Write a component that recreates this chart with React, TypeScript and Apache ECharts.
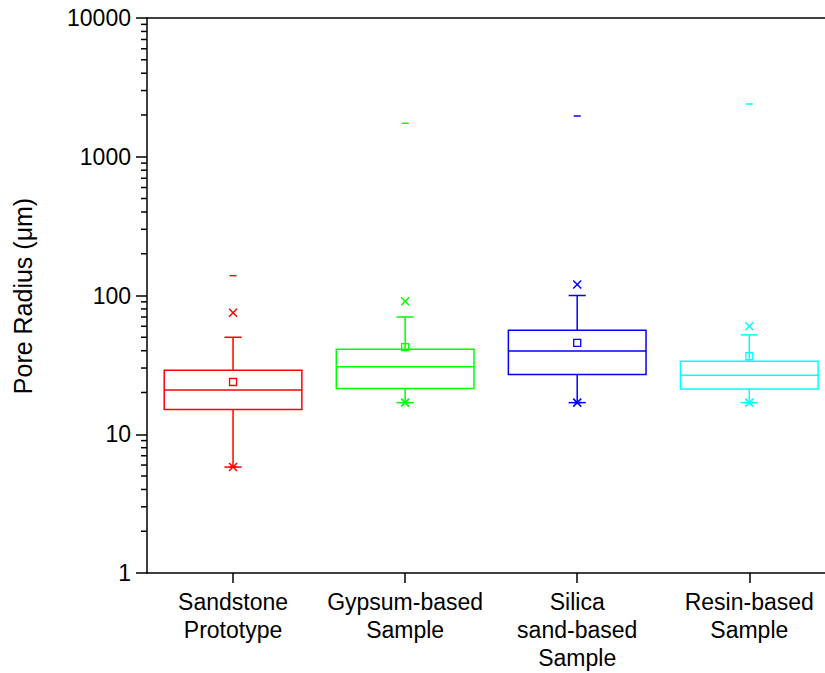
import React, { useEffect, useRef } from "react";
import * as echarts from "echarts";

const categories = [
  "Sandstone\nPrototype",
  "Gypsum-based\nSample",
  "Silica\nsand-based\nSample",
  "Resin-based\nSample",
];
const colors = ["#FF0000", "#00FF00", "#0000FF", "#00FFFF"];
const q1 = [15.1, 21.4, 26.9, 21.2];
const median = [20.8, 30.7, 39.8, 26.6];
const q3 = [28.9, 41.0, 56.1, 33.6];
const whiskerLow = [5.8, 16.9, 16.9, 16.9];
const whiskerHigh = [50, 70, 100, 52];
const mean = [23.8, 42.4, 45.5, 36.5];
const p99 = [75, 91, 120, 60];
const p1 = [5.8, 16.9, 16.9, 16.9];
const maxV = [139, 1742, 1967, 2400];
const minV = [5.8, 16.9, 16.9, 16.9];
const yTicks = [1, 10, 100, 1000, 10000];
const minorTicks: number[] = [];
for (let d = 0; d < 4; d++) {
  for (let m = 2; m <= 9; m++) minorTicks.push(m * Math.pow(10, d));
}

const FONT = "'Liberation Sans', Arial, Helvetica, sans-serif";
const X_MIN = 0.5;
const X_MAX = 4.44;

export default function App() {
  const ref = useRef<HTMLDivElement>(null);
  useEffect(() => {
    if (!ref.current) return;
    const chart = echarts.init(ref.current, undefined, { renderer: "svg" });
    const boxData = categories.map((_, i) => [
      i + 1,
      q1[i],
      median[i],
      q3[i],
      whiskerLow[i],
      whiskerHigh[i],
      mean[i],
      p99[i],
      p1[i],
      maxV[i],
      minV[i],
    ]);
    const lw = 1.5;
    chart.setOption({
      animation: false,
      grid: { left: 147, right: 0, top: 18, bottom: 100, containLabel: false },
      xAxis: [
        {
          type: "value",
          min: X_MIN,
          max: X_MAX,
          position: "bottom",
          splitLine: { show: false },
          axisLine: { show: true, lineStyle: { color: "#000", width: lw } },
          axisTick: {
            show: true,
            customValues: [1, 2, 3, 4],
            length: 10,
            lineStyle: { color: "#000", width: lw },
          },
          axisLabel: {
            customValues: [1, 2, 3, 4],
            formatter: (v: number) => categories[Math.round(v) - 1] || "",
            fontFamily: FONT,
            fontSize: 23,
            lineHeight: 28,
            color: "#000",
            margin: 15,
          },
        },
        {
          type: "value",
          min: X_MIN,
          max: X_MAX,
          position: "top",
          splitLine: { show: false },
          axisLine: { show: true, onZero: false, lineStyle: { color: "#000", width: lw } },
          axisTick: { show: false },
          axisLabel: { show: false },
        },
      ],
      yAxis: {
        type: "log",
        logBase: 10,
        min: 1,
        max: 10000,
        splitLine: { show: false },
        axisLine: { show: true, lineStyle: { color: "#000", width: lw } },
        axisTick: { show: true, length: 11, lineStyle: { color: "#000", width: lw } },
        minorTick: { show: false },
        axisLabel: {
          fontFamily: FONT,
          fontSize: 23,
          color: "#000",
          margin: 16,
          formatter: (v: number) => {
            const t = yTicks.find((k) => Math.abs(k - v) / k < 1e-6);
            return t !== undefined ? String(t) : "";
          },
        },
      },
      graphic: [
        {
          type: "text",
          x: 23,
          y: 296,
          rotation: Math.PI / 2,
          style: {
            text: "Pore Radius (\u03BCm)",
            font: `25px ${FONT}`,
            fill: "#000",
            textAlign: "center",
            textVerticalAlign: "middle",
          },
        },
      ],
      series: [
        {
          type: "custom",
          clip: false,
          xAxisIndex: 0,
          data: minorTicks.map((v) => [X_MIN, v]),
          encode: { x: 0, y: 1 },
          renderItem: (params: any, api: any) => {
            const p = api.coord([X_MIN, api.value(1)]);
            return {
              type: "line",
              shape: { x1: p[0] - 6, y1: p[1], x2: p[0], y2: p[1] },
              style: { stroke: "#000", lineWidth: lw },
            };
          },
        },
        {
          type: "custom",
          clip: false,
          xAxisIndex: 0,
          data: boxData,
          encode: { x: 0, y: [1, 2, 3, 4, 5, 6, 7, 8, 9, 10] },
          renderItem: (params: any, api: any) => {
            const i = params.dataIndex;
            const color = colors[i];
            const x = api.value(0);
            const Y = (k: number) => api.coord([x, api.value(k)])[1];
            const cx = api.coord([x, 10])[0];
            const half = (api.coord([x + 0.4, 10])[0] - api.coord([x - 0.4, 10])[0]) / 2;
            const cap = api.coord([x + 0.05, 10])[0] - cx;
            const yQ1 = Y(1), yMed = Y(2), yQ3 = Y(3), yWL = Y(4), yWH = Y(5);
            const yMean = Y(6), yP99 = Y(7), yP1 = Y(8), yMax = Y(9), yMin = Y(10);
            const st = { stroke: color, lineWidth: lw, fill: "none" };
            const line = (x1: number, y1: number, x2: number, y2: number) => ({
              type: "line",
              shape: { x1, y1, x2, y2 },
              style: st,
            });
            const cross = (y: number) => [
              line(cx - 4, y - 4, cx + 4, y + 4),
              line(cx - 4, y + 4, cx + 4, y - 4),
            ];
            return {
              type: "group",
              children: [
                line(cx, yQ3, cx, yWH),
                line(cx, yQ1, cx, yWL),
                line(cx - cap, yWH, cx + cap, yWH),
                line(cx - cap, yWL, cx + cap, yWL),
                {
                  type: "rect",
                  shape: { x: cx - half, y: yQ3, width: 2 * half, height: yQ1 - yQ3 },
                  style: st,
                },
                line(cx - half, yMed, cx + half, yMed),
                {
                  type: "rect",
                  shape: { x: cx - 3.5, y: yMean - 3.5, width: 7, height: 7 },
                  style: { stroke: color, lineWidth: 1.3, fill: "none" },
                },
                ...cross(yP99),
                ...cross(yP1),
                line(cx - 3.5, yMax, cx + 3.5, yMax),
                line(cx - 3.5, yMin, cx + 3.5, yMin),
              ],
            };
          },
        },
      ],
    });
    return () => chart.dispose();
  }, []);
  return (
    <div
      ref={ref}
      style={{ position: "absolute", left: 0, top: 0, width: 825, height: 673, background: "#fff" }}
    />
  );
}
